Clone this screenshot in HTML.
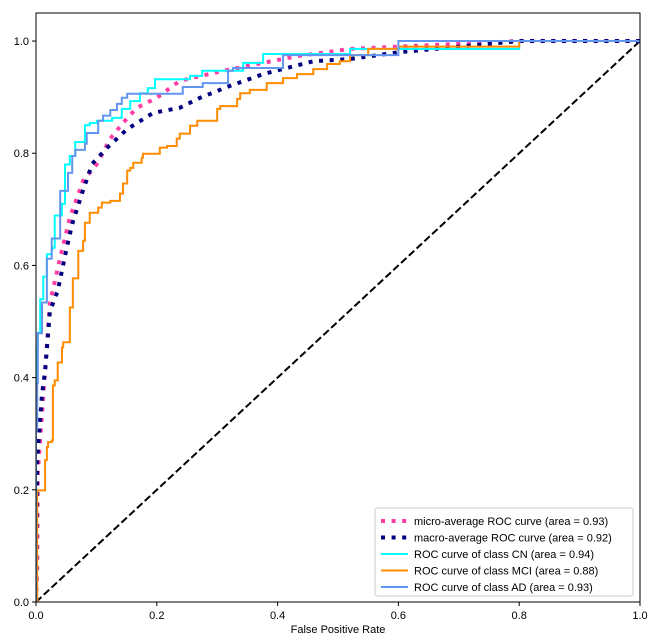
<!DOCTYPE html>
<html><head><meta charset="utf-8"><style>
html,body{margin:0;padding:0;background:#fff;}
svg{display:block;font-family:"Liberation Sans","DejaVu Sans",sans-serif;}
</style></head><body>
<svg id="chart" width="660" height="641" viewBox="0 0 660 641">
<rect x="0" y="0" width="660" height="641" fill="#fff"/>
<g id="marks"></g>
<g id="axes"></g>
<g id="legend"></g>
</svg>
<script>
const xTicks = [0, 0.2, 0.4, 0.6, 0.8, 1.0];
const yTicks = [0, 0.2, 0.4, 0.6, 0.8, 1.0];
const xTickLabels = ["0.0","0.2","0.4","0.6","0.8","1.0"];
const yTickLabels = ["0.0","0.2","0.4","0.6","0.8","1.0"];
const seriesNames = ["micro-average ROC curve (area = 0.93)","macro-average ROC curve (area = 0.92)","ROC curve of class CN (area = 0.94)","ROC curve of class MCI (area = 0.88)","ROC curve of class AD (area = 0.93)"];
const microFpr = [0,0.002,0.003,0.023,0.040,0.056,0.078,0.101,0.123,0.144,0.167,0.200,0.238,0.310,0.366,0.432,0.520,0.6,0.8,1];
const microTpr = [0,0.06,0.23,0.532,0.614,0.685,0.751,0.781,0.826,0.854,0.881,0.899,0.929,0.947,0.959,0.973,0.986,0.99,1,1];
const macroFpr = [0,0.002,0.010,0.015,0.023,0.036,0.051,0.060,0.076,0.093,0.118,0.151,0.194,0.238,0.272,0.321,0.376,0.459,0.520,0.6,0.8,1];
const macroTpr = [0,0.253,0.371,0.411,0.518,0.555,0.632,0.674,0.728,0.781,0.810,0.843,0.872,0.881,0.899,0.920,0.941,0.964,0.968,0.98,1,1];
const cnFpr = [0,0,0.003,0.007,0.012,0.018,0.026,0.028,0.031,0.043,0.048,0.056,0.065,0.081,0.089,0.101,0.126,0.142,0.156,0.172,0.185,0.197,0.255,0.275,0.343,0.376,0.425,0.520,0.75,0.80,0.80,1];
const cnTpr = [0,0.3,0.45,0.48,0.54,0.58,0.62,0.63,0.632,0.689,0.71,0.78,0.795,0.82,0.85,0.854,0.858,0.863,0.879,0.893,0.907,0.916,0.932,0.938,0.947,0.961,0.977,0.977,0.986,0.986,0.993,1];
const mciFpr = [0,0.002,0.002,0.015,0.018,0.020,0.026,0.028,0.031,0.036,0.043,0.045,0.056,0.056,0.061,0.070,0.078,0.081,0.089,0.103,0.109,0.123,0.139,0.144,0.151,0.156,0.161,0.175,0.177,0.185,0.205,0.217,0.233,0.238,0.255,0.267,0.272,0.300,0.305,0.333,0.338,0.354,0.382,0.409,0.432,0.459,0.482,0.503,0.520,0.55,0.6,0.8,0.8,1];
const mciTpr = [0,0,0.194,0.199,0.253,0.276,0.285,0.288,0.386,0.395,0.427,0.454,0.463,0.480,0.525,0.577,0.626,0.644,0.676,0.694,0.703,0.712,0.715,0.728,0.746,0.769,0.774,0.783,0.792,0.799,0.799,0.810,0.813,0.826,0.835,0.849,0.858,0.858,0.879,0.884,0.897,0.907,0.913,0.925,0.934,0.941,0.950,0.959,0.964,0.975,0.986,0.99,1,1];
const adFpr = [0,0.002,0.003,0.010,0.015,0.018,0.026,0.040,0.053,0.060,0.065,0.081,0.084,0.103,0.111,0.123,0.134,0.142,0.151,0.243,0.276,0.318,0.326,0.409,0.409,0.6,0.6,1];
const adTpr = [0,0.31,0.39,0.479,0.534,0.534,0.612,0.648,0.733,0.765,0.795,0.806,0.817,0.836,0.858,0.867,0.877,0.888,0.899,0.906,0.918,0.925,0.947,0.952,0.961,0.975,1,1];
const chanceX = [0,1];
const chanceY = [0,1];

const NS = "http://www.w3.org/2000/svg";
const L = 36, R = 640, T = 13, B = 602, YMAX = 1.05;
const xs = v => L + v * (R - L);
const ys = v => B - v / YMAX * (B - T);
function mk(tag, attrs, parent){ const e = document.createElementNS(NS, tag); for (const k in attrs) e.setAttribute(k, attrs[k]); parent.appendChild(e); return e; }
const marks = document.getElementById('marks');
const axes = document.getElementById('axes');
const legend = document.getElementById('legend');

const defs = mk('defs', {}, document.getElementById('chart'));
const cp = mk('clipPath', {id:'clip'}, defs);
mk('rect', {x:L, y:T, width:R-L, height:B-T}, cp);
marks.setAttribute('clip-path', 'url(#clip)');

const series = [
  {fx: microFpr, ty: microTpr, color:'#ff3ea5', w:4, dash:'4 6.6', step:false, name:'micro-average-curve'},
  {fx: macroFpr, ty: macroTpr, color:'navy', w:4, dash:'4 6.6', step:false, name:'macro-average-curve'},
  {fx: cnFpr, ty: cnTpr, color:'aqua', w:2, dash:'', step:true, name:'cn-curve'},
  {fx: mciFpr, ty: mciTpr, color:'darkorange', w:2, dash:'', step:true, name:'mci-curve'},
  {fx: adFpr, ty: adTpr, color:'cornflowerblue', w:2, dash:'', step:true, name:'ad-curve'}
];
function pts(s){
  const out = [];
  for (let j = 0; j < s.fx.length; j++) {
    if (s.step && j > 0) out.push(xs(s.fx[j-1]) + ',' + ys(s.ty[j]));
    out.push(xs(s.fx[j]) + ',' + ys(s.ty[j]));
  }
  return out.join(' ');
}
const ch = mk('polyline', {points: chanceX.map((v,i)=>xs(v)+','+ys(chanceY[i])).join(' '), fill:'none', stroke:'#000', 'stroke-width':2, 'stroke-dasharray':'7.4 3.2'}, marks);


[0,1,2,3,4].forEach(i => {
  const s = series[i];
  const p = mk('polyline', {points: pts(s), fill:'none', stroke:s.color, 'stroke-width':s.w, 'stroke-linejoin':'miter'}, marks);
  if (s.dash) p.setAttribute('stroke-dasharray', s.dash);
  
  
});

const fr = mk('rect', {x:L, y:T, width:R-L, height:B-T, fill:'none', stroke:'#000', 'stroke-width':1}, axes);


xTicks.forEach((v,i) => {
  const t = mk('line', {x1:xs(v), x2:xs(v), y1:B, y2:B+4, stroke:'#000'}, axes);
  
  
  const tx = mk('text', {x:xs(v), y:B+17, 'text-anchor':'middle', 'font-size':11, fill:'#000'}, axes);
  tx.textContent = xTickLabels[i];
  
  
});
yTicks.forEach((v,i) => {
  const t = mk('line', {x1:L-4, x2:L, y1:ys(v), y2:ys(v), stroke:'#000'}, axes);
  
  
  const tx = mk('text', {x:L-7, y:ys(v)+4, 'text-anchor':'end', 'font-size':11, fill:'#000'}, axes);
  tx.textContent = yTickLabels[i];
  
  
});
const xl = mk('text', {x:(L+R)/2, y:633, 'text-anchor':'middle', 'font-size':11, fill:'#000'}, axes);
xl.textContent = 'False Positive Rate';



const lb = mk('rect', {x:375, y:508, width:258, height:88, rx:3, fill:'#fff', 'fill-opacity':0.85, stroke:'#ccc'}, legend);


seriesNames.forEach((n,i) => {
  const s = series[i];
  const y = 521 + i * 16.5;
  const g = mk('g', {}, legend);
  
  
  const ln = mk('line', {x1:381, x2:408, y1:y, y2:y, stroke:s.color, 'stroke-width':s.w}, g);
  if (s.dash) ln.setAttribute('stroke-dasharray', s.dash);
  const tx = mk('text', {x:414, y:y+4, 'font-size':11, fill:'#000'}, g);
  tx.textContent = n;
});
</script>
</body></html>
